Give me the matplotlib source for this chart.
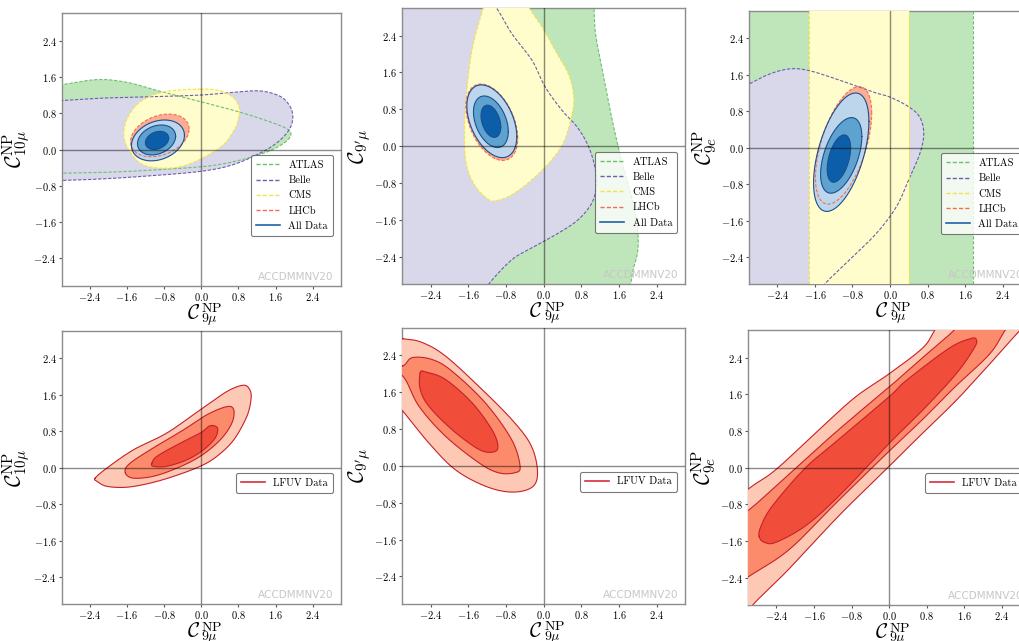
import numpy as np
import matplotlib
matplotlib.use("Agg")
import matplotlib.pyplot as plt
from matplotlib.lines import Line2D

plt.rcParams['mathtext.fontset'] = 'cm'

# ---------------- data (data units) ----------------
TICKS = [-2.4, -1.6, -0.8, 0.0, 0.8, 1.6, 2.4]
TICK_LABELS = [r'$-2.4$', r'$-1.6$', r'$-0.8$', r'$0.0$', r'$0.8$', r'$1.6$', r'$2.4$']
XLABEL_PARTS = (r'$\mathcal{C}$', r'$\mathrm{NP}$', r'$9\mu$')
YLABELS = [r'$\mathcal{C}^{\rm NP}_{10\mu}$', r'$\mathcal{C}_{9^{\prime}\mu}$', r'$\mathcal{C}^{\rm NP}_{9e}$']
EXPERIMENTS = ['ATLAS', 'Belle', 'CMS', 'LHCb', 'All Data']
WATERMARK = 'ACCDMMNV20'

# ellipse-like regions: (centre x, centre y, half-extent x, half-extent y, correlation)
TL_LHCB = (-0.89, 0.31, 0.63, 0.47, 0.30)
TL_ALL = [(-0.93, 0.20, 0.57, 0.45, 0.25), (-0.96, 0.21, 0.41, 0.33, 0.25), (-0.95, 0.20, 0.25, 0.20, 0.25)]
TM_LHCB = (-1.10, 0.52, 0.55, 0.83, -0.42)
TM_ALL = [(-1.10, 0.54, 0.53, 0.79, -0.42), (-1.12, 0.53, 0.37, 0.56, -0.38), (-1.12, 0.54, 0.21, 0.35, -0.35)]
TR_LHCB = (-0.99, 0.05, 0.60, 1.29, 0.55)
TR_ALL = [(-1.04, -0.10, 0.59, 1.30, 0.52), (-1.04, -0.17, 0.44, 0.83, 0.50), (-1.09, -0.24, 0.25, 0.52, 0.45)]

# free-form boundaries (x, y) ; points beyond +-3 close regions outside the frame
TL_ATLAS = [(-3.6, 1.40), (-3.0, 1.43), (-2.24, 1.54), (-1.6, 1.48), (-0.88, 1.28), (0.0, 1.05),
            (0.84, 0.82), (1.56, 0.58), (1.88, 0.43), (1.92, 0.30), (1.78, 0.14), (1.45, -0.04),
            (1.0, -0.19), (0.5, -0.31), (0.0, -0.38), (-1.0, -0.45), (-2.0, -0.50), (-3.0, -0.52), (-3.6, -0.53)]
TL_BELLE = [(-3.6, 1.08), (-3.0, 1.08), (-2.17, 1.13), (-1.1, 1.16), (0.0, 1.20), (0.70, 1.26),
            (1.27, 1.29), (1.70, 1.17), (1.91, 0.95), (1.97, 0.72), (1.91, 0.47), (1.70, 0.21),
            (1.34, -0.04), (0.70, -0.33), (0.0, -0.48), (-1.1, -0.58), (-2.17, -0.65), (-3.0, -0.68), (-3.6, -0.69)]
TL_CMS = [(-0.02, 1.33), (0.38, 1.30), (0.66, 1.17), (0.80, 0.98), (0.82, 0.78), (0.72, 0.45),
          (0.40, 0.04), (-0.31, -0.34), (-0.88, -0.41), (-1.31, -0.30), (-1.60, 0.07), (-1.66, 0.43),
          (-1.53, 0.80), (-1.24, 1.10), (-0.74, 1.28)]

TM_ATLAS = [(-4.5, 4.5), (1.0, 4.5), (1.05, 3.4), (1.07, 3.0), (1.10, 2.45), (1.23, 1.73), (1.44, 0.64),
            (1.65, -0.30), (1.88, -1.16), (2.0, -1.89), (1.99, -2.32), (1.90, -2.68), (1.85, -3.0),
            (1.8, -3.4), (1.7, -4.5), (-4.5, -4.5)]
TM_BELLE = [(-4.5, 4.5), (-1.4, 3.5), (-1.0, 3.0), (-0.68, 2.45), (-0.25, 1.87), (0.03, 1.29), (0.38, 0.79),
            (0.73, 0.39), (0.97, -0.05), (1.10, -0.52), (1.12, -0.87), (1.02, -1.24), (0.73, -1.60),
            (0.31, -1.89), (-0.25, -2.21), (-0.68, -2.47), (-1.17, -3.0), (-1.5, -3.5), (-4.5, -4.5)]
TM_CMS = [(-0.75, 3.45), (-0.45, 3.25), (-0.31, 3.0), (-0.04, 2.60), (0.24, 2.09), (0.52, 1.58),
          (0.63, 1.15), (0.62, 0.79), (0.45, 0.14), (0.17, -0.30), (-0.25, -0.73), (-0.68, -1.06),
          (-1.0, -1.18), (-1.17, -1.16), (-1.45, -0.87), (-1.63, -0.44), (-1.68, 0.14),
          (-1.65, 1.0), (-1.52, 2.09), (-1.28, 3.0), (-1.12, 3.35)]

TR_ATLAS_X = (-4.5, 1.78)
TR_CMS_X = (-1.72, 0.41)
TR_BELLE = [(-4.5, -4.5), (-4.5, 0.9), (-3.4, 1.20), (-3.0, 1.40), (-2.56, 1.62), (-2.13, 1.73), (-1.72, 1.69),
            (-1.07, 1.48), (-0.36, 1.22), (0.0, 1.11), (0.41, 0.89), (0.64, 0.66), (0.72, 0.31),
            (0.64, -0.12), (0.43, -0.63), (0.14, -1.29), (-0.28, -1.87), (-0.85, -2.45),
            (-1.38, -2.98), (-1.7, -3.4), (-2.5, -4.5)]

BL_LFUV = [
    [(-2.28, -0.23), (-2.03, -0.01), (-1.46, 0.39), (-0.74, 0.76), (-0.02, 1.27), (0.55, 1.67),
     (0.91, 1.81), (1.05, 1.70), (1.07, 1.49), (0.98, 1.12), (0.70, 0.61), (0.34, 0.25),
     (-0.02, 0.03), (-0.59, -0.19), (-1.10, -0.34), (-1.60, -0.43), (-2.03, -0.41), (-2.24, -0.30)],
    [(-1.63, -0.12), (-1.56, 0.07), (-1.10, 0.39), (-0.38, 0.83), (0.12, 1.16), (0.55, 1.34),
     (0.70, 1.27), (0.66, 0.98), (0.41, 0.61), (-0.02, 0.25), (-0.52, -0.01), (-1.03, -0.19), (-1.46, -0.23)],
    [(-1.06, 0.10), (-0.95, 0.25), (-0.52, 0.50), (-0.02, 0.76), (0.19, 0.92), (0.35, 0.87),
     (0.30, 0.65), (0.05, 0.39), (-0.31, 0.17), (-0.74, 0.03), (-1.03, 0.03)],
]
BM_LFUV = [
    [(-2.99, 2.76), (-2.58, 2.68), (-2.09, 2.39), (-1.38, 1.73), (-0.68, 1.01), (-0.27, 0.45),
     (-0.13, -0.12), (-0.24, -0.46), (-0.68, -0.57), (-1.24, -0.44), (-1.88, -0.08),
     (-2.44, 0.50), (-2.99, 1.19), (-3.6, 1.9), (-3.6, 2.8)],
    [(-2.99, 2.17), (-2.79, 2.35), (-2.37, 2.31), (-1.95, 2.06), (-1.24, 1.37), (-0.68, 0.57),
     (-0.50, -0.01), (-0.61, -0.15), (-0.96, -0.15), (-1.38, 0.07), (-2.09, 0.65),
     (-2.65, 1.30), (-2.99, 1.95), (-3.4, 2.1)],
    [(-2.62, 2.02), (-2.51, 2.04), (-2.09, 1.88), (-1.52, 1.37), (-1.10, 0.79), (-0.97, 0.43),
     (-1.07, 0.30), (-1.38, 0.36), (-1.95, 0.79), (-2.44, 1.30), (-2.62, 1.66)],
]
BR_LFUV = [
    [(-4.0, -1.3), (-3.02, -0.48), (-2.41, -0.04), (-1.42, 0.90), (-0.71, 1.55), (0.0, 2.05),
     (0.71, 2.61), (0.96, 2.98), (1.3, 3.5), (2.0, 4.2), (3.2, 3.4), (2.77, 2.98), (2.13, 2.25),
     (1.42, 1.46), (0.71, 0.75), (0.0, 0.03), (-1.07, -1.05), (-2.13, -2.21), (-2.88, -2.97),
     (-3.3, -3.5), (-4.2, -3.6)],
    [(-4.0, -1.7), (-3.02, -0.95), (-2.41, -0.40), (-1.42, 0.52), (-0.71, 1.15), (0.0, 1.76),
     (0.71, 2.40), (1.35, 2.97), (1.7, 3.4), (2.3, 3.8), (2.7, 3.4), (2.45, 2.97), (2.13, 2.47),
     (1.42, 1.78), (0.71, 1.05), (0.0, 0.36), (-1.07, -0.71), (-2.13, -1.79), (-3.02, -2.40),
     (-3.8, -3.0)],
    [(-2.77, -1.50), (-2.66, -1.63), (-2.41, -1.63), (-1.78, -1.27), (-1.07, -0.62), (0.0, 0.53),
     (0.71, 1.25), (1.42, 2.04), (1.81, 2.61), (1.86, 2.79), (1.74, 2.82), (1.28, 2.61),
     (0.36, 1.90), (0.0, 1.55), (-1.07, 0.62), (-1.78, 0.0), (-2.49, -0.84), (-2.73, -1.28)],
]

# ---------------- style ----------------
C_ATLAS_F, C_ATLAS_L = '#bfe5bb', '#6cc06e'
C_BELLE_F, C_BELLE_L = '#d9d7ea', '#6a5fad'
C_CMS_F, C_CMS_L = '#fffdcb', '#f2e34b'
C_LHCB_F, C_LHCB_L = '#fcae94', '#f46d55'
C_ALL_F = ['#bdd6ec', '#5ea2d0', '#0c5ea8']
C_ALL_L = '#1c4f8f'
C_LFUV_F = ['#fdc9b4', '#fc8b6c', '#f04d3b']
C_LFUV_L = '#c8202a'

W, H = 1019, 641
fig = plt.figure(figsize=(W / 100, H / 100), dpi=100)


def axes_px(l, r, t, b):
    return fig.add_axes([l / W, 1 - b / H, (r - l) / W, (b - t) / H])


def catmull(pts, n=24):
    P = np.asarray(pts, float)
    N = len(P)
    t = np.linspace(0, 1, n, endpoint=False)[:, None]
    segs = []
    for i in range(N):
        p0, p1, p2, p3 = P[i - 1], P[i], P[(i + 1) % N], P[(i + 2) % N]
        segs.append(0.5 * (2 * p1 + (-p0 + p2) * t + (2 * p0 - 5 * p1 + 4 * p2 - p3) * t ** 2
                           + (-p0 + 3 * p1 - 3 * p2 + p3) * t ** 3))
    out = np.vstack(segs)
    return np.vstack([out, out[:1]])


def ellipse(par, n=200):
    cx, cy, hx, hy, rho = par
    t = np.linspace(0, 2 * np.pi, n)
    d = np.arccos(rho)
    return np.column_stack([cx + hx * np.cos(t), cy + hy * np.cos(t - d)])


def region(ax, xy, fc, lc, ls, z):
    ax.fill(xy[:, 0], xy[:, 1], color=fc, lw=0, zorder=z)
    if ls == '--':
        ax.plot(xy[:, 0], xy[:, 1], color=lc, ls='--', lw=0.8, dashes=(3, 1.5), zorder=10 + z * 0.1)
    else:
        ax.plot(xy[:, 0], xy[:, 1], color=lc, ls='-', lw=0.8, zorder=10 + z * 0.1)


def band(ax, xr, fc, lc, z):
    ax.axvspan(xr[0], xr[1], color=fc, lw=0, zorder=z)
    for x in xr:
        ax.axvline(x, color=lc, ls='--', lw=0.8, dashes=(3, 1.5), zorder=10 + z * 0.1)


def xlabel(ax):
    # C with stacked superscript/subscript, set close together as LaTeX does
    main, sup, sub = XLABEL_PARTS
    kw = dict(xy=(0.5, 0), xycoords='axes fraction', textcoords='offset pixels',
              va='top', annotation_clip=False)
    ax.annotate(main, xytext=(-1.5, -17), ha='right', fontsize=15, **kw)
    ax.annotate(sup, xytext=(0, -15.5), ha='left', fontsize=10, **kw)
    ax.annotate(sub, xytext=(0, -25), ha='left', fontsize=10, **kw)


def style(ax, ylabel, legend_items):
    ax.set_xlim(-3, 3)
    ax.set_ylim(-3, 3)
    ax.set_xticks(TICKS)
    ax.set_xticklabels(TICK_LABELS, fontsize=7.5)
    ax.set_yticks(TICKS)
    ax.set_yticklabels(TICK_LABELS, fontsize=7.5)
    for s in ax.spines.values():
        s.set_color('0.55')
        s.set_linewidth(1.0)
    ax.tick_params(colors='0.35', length=2.5, width=0.8, labelcolor='black', pad=1.2)
    ax.axhline(0, color='black', lw=1.0, alpha=0.45, zorder=20)
    ax.axvline(0, color='black', lw=1.0, alpha=0.45, zorder=20)
    xlabel(ax)
    ax.set_ylabel(ylabel, fontsize=15.5, labelpad=0.5)
    ax.text(0.975, 0.015, WATERMARK, transform=ax.transAxes, ha='right', va='bottom',
            color='0.78', fontsize=7.5, family='DejaVu Sans', zorder=21)
    handles = []
    for c, ls in legend_items[1]:
        if ls == '--':
            handles.append(Line2D([], [], color=c, ls='--', lw=1.0, dashes=(3, 1.5)))
        else:
            handles.append(Line2D([], [], color=c, ls='-', lw=1.2))
    leg = ax.legend(handles, legend_items[0], loc='upper right', bbox_to_anchor=(0.973, 0.479),
                    borderaxespad=0, prop={'family': 'cmr10', 'size': 7.5}, handlelength=2.3,
                    framealpha=0.8, edgecolor='0.35', fancybox=True, borderpad=0.5, labelspacing=0.55)
    leg.set_zorder(30)
    leg.get_frame().set_linewidth(0.8)


TOP_LEG = (EXPERIMENTS, [(C_ATLAS_L, '--'), (C_BELLE_L, '--'), (C_CMS_L, '--'), (C_LHCB_L, '--'), ('#2060a8', '-')])
BOT_LEG = (['LFUV Data'], [('#d7303a', '-')])

ax_tl = axes_px(61.7, 340.7, 13.3, 285.7)
ax_tm = axes_px(402.3, 685.0, 8.0, 284.3)
ax_tr = axes_px(749.3, 1030.7, 11.0, 284.3)
ax_bl = axes_px(61.7, 340.7, 331.0, 604.3)
ax_bm = axes_px(402.3, 685.0, 327.7, 604.0)
ax_br = axes_px(748.3, 1030.0, 330.3, 605.0)

# ---- top left
region(ax_tl, catmull(TL_ATLAS), C_ATLAS_F, C_ATLAS_L, '--', 1)
region(ax_tl, catmull(TL_BELLE), C_BELLE_F, C_BELLE_L, '--', 2)
region(ax_tl, catmull(TL_CMS), C_CMS_F, C_CMS_L, '--', 3)
region(ax_tl, ellipse(TL_LHCB), C_LHCB_F, C_LHCB_L, '--', 4)
for par, fc in zip(TL_ALL, C_ALL_F):
    region(ax_tl, ellipse(par), fc, C_ALL_L, '-', 5)
# ---- top middle
region(ax_tm, catmull(TM_ATLAS), C_ATLAS_F, C_ATLAS_L, '--', 1)
region(ax_tm, catmull(TM_BELLE), C_BELLE_F, C_BELLE_L, '--', 2)
region(ax_tm, catmull(TM_CMS), C_CMS_F, C_CMS_L, '--', 3)
region(ax_tm, ellipse(TM_LHCB), C_LHCB_F, C_LHCB_L, '--', 4)
for par, fc in zip(TM_ALL, C_ALL_F):
    region(ax_tm, ellipse(par), fc, C_ALL_L, '-', 5)
# ---- top right
band(ax_tr, TR_ATLAS_X, C_ATLAS_F, C_ATLAS_L, 1)
region(ax_tr, catmull(TR_BELLE), C_BELLE_F, C_BELLE_L, '--', 2)
band(ax_tr, TR_CMS_X, C_CMS_F, C_CMS_L, 3)
region(ax_tr, ellipse(TR_LHCB), C_LHCB_F, C_LHCB_L, '--', 4)
for par, fc in zip(TR_ALL, C_ALL_F):
    region(ax_tr, ellipse(par), fc, C_ALL_L, '-', 5)
# ---- bottom row
for ax, regs in ((ax_bl, BL_LFUV), (ax_bm, BM_LFUV), (ax_br, BR_LFUV)):
    for k, (pts, fc) in enumerate(zip(regs, C_LFUV_F)):
        region(ax, catmull(pts), fc, C_LFUV_L, '-', 3 + k)

style(ax_tl, YLABELS[0], TOP_LEG)
style(ax_tm, YLABELS[1], TOP_LEG)
style(ax_tr, YLABELS[2], TOP_LEG)
style(ax_bl, YLABELS[0], BOT_LEG)
style(ax_bm, YLABELS[1], BOT_LEG)
style(ax_br, YLABELS[2], BOT_LEG)

fig.savefig('out.png', dpi=100)
